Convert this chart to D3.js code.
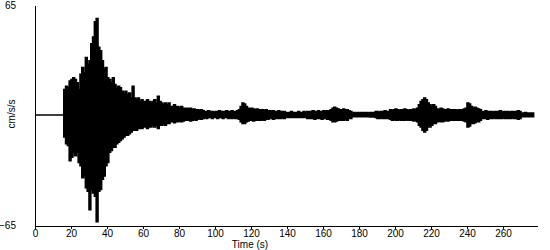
<!DOCTYPE html>
<html>
<head>
<meta charset="utf-8">
<script src="https://cdn.jsdelivr.net/npm/d3@7"></script>
<style>
	body { margin: 0; background: #fff; }
	svg { display: block; }
	text { font-family: "Liberation Sans", Arial, sans-serif; font-size: 10px; fill: #000; }
</style>
</head>
<body>
<svg id="chart" width="550" height="250"></svg>
<script>
// record sampled once per second from t = 0 s, envelope of the trace (cm/s/s)
const startTime = 0;
const sampleStep = 1;

const upperPeak = [
	0, 0, 0, 0, 0, 0, 0, 0, 0, 0, 0, 0, 0, 0, 0, 0,
	15, 17, 16, 20, 21, 22, 21, 19, 15, 24, 28, 25, 34, 30, 32, 42, 46, 55, 57, 40,
	38, 32, 27, 28, 22, 21, 19, 22, 18, 16, 17, 16, 14, 13, 14, 12, 13, 10, 17, 10,
	9, 10, 8, 9, 8,
	8, 9, 8, 7, 8, 9, 7, 11, 8,
	7, 6, 7, 6, 7, 5,
	5, 6, 5, 5, 4, 5, 4,
	4, 4, 3.5, 4, 3, 3.5, 3, 3, 2.5, 3,
	2.5, 2, 2, 2.5, 2, 2, 1.5, 2, 2, 2.5, 2, 2, 2, 2.5, 2, 2, 2.5, 2, 2, 2.5, 3,
	5, 7, 6.5, 5, 4,
	4, 4, 3.5, 3, 3.5, 3,
	3, 3, 2.5, 3, 2.5, 2.5,
	2, 2.5, 2, 2, 2.5, 2, 2, 2, 1.5,
	1.5, 1.5, 2, 1.5, 1.5, 1.5, 2, 1.5, 1.5, 2, 1.5, 2, 2,
	2, 2.5, 2, 2, 2.5, 2, 2, 2.5, 2, 2.5, 2.5, 3,
	4, 4.5, 4, 3.5,
	3, 3, 3.5, 3, 3, 2.5, 2,
	1.5, 1.5, 1.2, 1.5, 1.2, 1.5, 1.2, 1.5, 1.5, 1.2, 1.5, 1.5, 1.5,
	2, 2, 1.5, 2, 2, 2.5, 2, 2,
	3, 2.5, 3, 3.5, 3, 2.5, 3, 3, 3.5, 3, 2.5, 3, 3, 3.5, 3, 4,
	6, 8, 9,
	10, 9, 7,
	6, 5, 6, 5,
	3.5, 3, 4, 3.5, 3, 3, 3.5, 3, 3, 3, 3, 2.5, 3, 3, 3, 3.5, 4,
	7, 6.5, 5,
	4, 4.5, 4, 3.5, 3,
	2, 2, 2.5, 2, 2, 2, 1.5, 2, 2, 2, 2.5, 2, 2, 2, 2, 1.5, 2, 2, 2, 2,
	2.5, 2,
	1.2, 1.2, 1.5, 1.2, 1.2, 1, 1.2, 1
];

const lowerPeak = [
	0, 0, 0, 0, 0, 0, 0, 0, 0, 0, 0, 0, 0, 0, 0, 0,
	-13, -17, -18, -27, -25, -22, -24, -22, -28, -30, -37, -36, -43, -45, -56, -44, -46, -48, -63, -45,
	-44, -38, -36, -30, -28, -22, -21, -19, -19, -17, -16, -15, -14, -13, -12, -12, -11, -10, -9, -9,
	-9, -8, -8, -8, -7,
	-7, -8, -7, -7, -6, -7, -6, -8, -6,
	-6, -5, -6, -5, -5, -4,
	-4, -4.5, -4, -4, -3.5, -4, -3.5,
	-3, -3, -3, -3.5, -3, -2.5, -3, -2.5, -2, -2.5,
	-2, -1.5, -2, -1.5, -1.5, -2, -1.5, -1.5, -2, -1.5, -1.5, -2, -1.5, -1.5, -2, -1.5, -2, -1.5, -2, -2, -2.5,
	-4, -5, -5, -4, -3.5,
	-3, -3, -3.5, -3, -3, -3,
	-3, -2.5, -3, -2.5, -2.5, -2,
	-2, -2.5, -2, -2, -2, -2, -1.5, -2, -1.5,
	-1.5, -1.5, -1.5, -1.2, -1.5, -1.5, -1.5, -1.2, -1.5, -1.5, -1.5, -2, -2,
	-2, -2, -2.5, -2, -2, -2, -2.5, -2, -2, -2.5, -2.5, -3,
	-4, -4, -3.5, -3,
	-3, -3, -3, -2.5, -3, -2, -2,
	-1, -0.8, -1, -1, -0.8, -1, -1, -0.8, -1, -1, -1.2, -1.2, -1.2,
	-1.5, -2, -2, -1.5, -2, -2, -2, -2,
	-2.5, -3, -2.5, -3, -3, -2.5, -3, -3, -3, -2.5, -3, -3, -3, -3.5, -3, -4,
	-6, -7, -9,
	-10, -9, -7,
	-7, -6, -5, -5,
	-4, -3.5, -4, -4, -3.5, -3, -3.5, -3, -3, -3, -3, -3, -3, -3, -3, -3.5, -4,
	-7, -6.5, -5,
	-5, -4.5, -4, -4, -3,
	-2, -2, -2, -2.5, -2, -2, -2, -1.5, -2, -2, -2, -2, -1.5, -2, -2, -2, -2, -1.5, -2, -2,
	-2.5, -2,
	-1, -1, -1, -1, -1, -0.8, -1, -0.8
];

const timeTicks = [0, 20, 40, 60, 80, 100, 120, 140, 160, 180, 200, 220, 240, 260];
const ampLabels = [-65, 65];
const xTitle = 'Time (s)';
const yTitle = 'cm/s/s';

const svg = d3.select('#chart');

const x = d3.scaleLinear().domain([0, 279]).range([35, 537.2]);
const y = d3.scaleLinear().domain([-65, 65]).range([225, 5]);

const trace = upperPeak.map((u, i) => ({ t: startTime + i * sampleStep, hi: u, lo: lowerPeak[i] }));

const area = d3.area()
	.x(d => x(d.t))
	.y0(d => y(d.lo))
	.y1(d => y(d.hi))
	.curve(d3.curveStepAfter);

svg.append('path')
	.datum(trace)
	.attr('d', area)
	.attr('fill', '#000')
	.attr('stroke', '#000')
	.attr('stroke-width', 1.6);

// axes
svg.append('g')
	.attr('transform', 'translate(0,226)')
	.call(d3.axisBottom(x).tickValues(timeTicks).tickSize(3).tickSizeOuter(0).tickPadding(1));

svg.append('g')
	.attr('transform', 'translate(35,0)')
	.call(d3.axisLeft(y).tickValues(ampLabels).tickSize(0).tickSizeOuter(0).tickPadding(19));

svg.selectAll('.domain, .tick line')
	.attr('stroke', '#000')
	.attr('shape-rendering', 'crispEdges');
svg.selectAll('.tick text')
	.attr('font-family', null)
	.attr('font-size', null);

svg.append('text')
	.attr('x', 250)
	.attr('y', 248)
	.attr('text-anchor', 'middle')
	.text(xTitle);

svg.append('text')
	.attr('transform', 'translate(15,114) rotate(-90)')
	.attr('text-anchor', 'middle')
	.text(yTitle);
</script>
</body>
</html>
